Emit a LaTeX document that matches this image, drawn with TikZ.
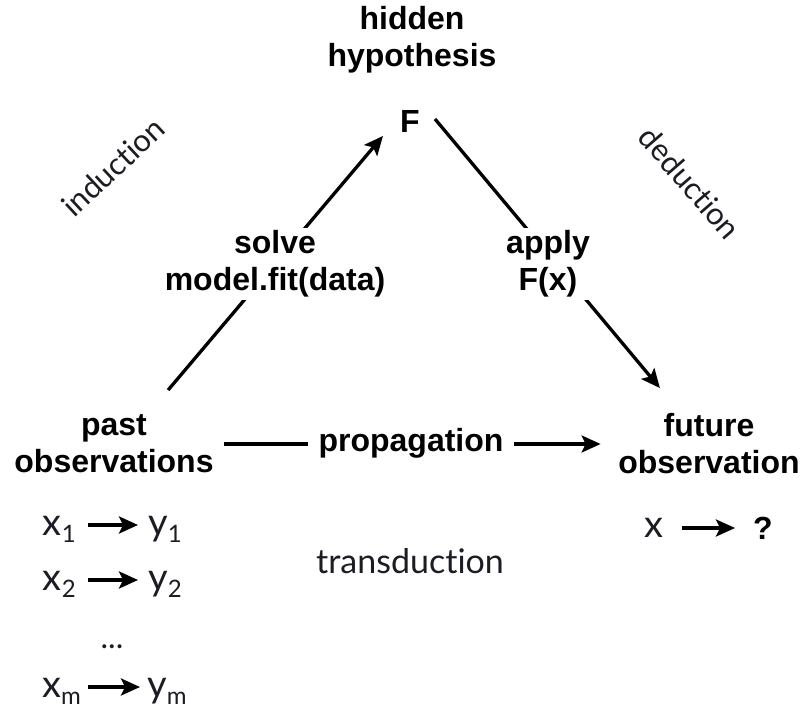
\documentclass[tikz,border=0pt]{standalone}
\usepackage{fontspec}
\usetikzlibrary{arrows.meta}
\newfontfamily\headfam{Liberation Sans}
\newfontfamily\thinfam{Lato}[Ligatures=NoCommon]
\definecolor{ink}{RGB}{28,28,36}
\newcommand\lowidx[1]{\raisebox{-0.2em}{\fontsize{24}{24}\selectfont #1}}

\begin{document}
\begin{tikzpicture}[x=1pt,y=-1pt,
  lbl/.style={font=\headfam\bfseries\fontsize{32}{37}\selectfont, align=center, inner sep=0pt},
  thin/.style={font=\thinfam\fontsize{31}{36}\selectfont, text=ink, inner sep=0pt},
  pair/.style={font=\thinfam\fontsize{38}{40}\selectfont, text=ink, inner sep=0pt, text height=20pt, text depth=0pt},
  arr/.style={line width=3.3pt, -{Stealth[length=19pt,width=17pt,inset=4pt]}},
  gap/.style={fill=white, inner xsep=2pt, inner ysep=3pt}
]
\useasboundingbox[fill=white] (0,0) rectangle (804,711);

% main nodes
\node[lbl] (hyp) at (412,40) {hidden\\hypothesis};
\node[lbl] (F) at (410,121) {F};
\node[lbl] (past) at (114,444) {past\\observations};
\node[lbl] (future) at (709,444) {future\\observation};

% induction: past -> F
\draw[arr, shorten <=70.6pt, shorten >=19.6pt] ([xshift=8.5pt]past.center) -- ([xshift=-14.4pt]F.center);
\node[lbl,gap] (solve) at (275,264) {solve\\model.fit(data)};

% deduction: F -> future
\draw[arr, shorten >=72.9pt] ([xshift=25pt,yshift=2pt]F.center) -- ([xshift=-2.3pt]future.center);
\node[lbl,gap] (apply) at (548,264) {apply\\F(x)};

% transduction: past -> future
\draw[arr, shorten <=10.4pt, shorten >=17.5pt] (past.east) -- (future.west);
\node[lbl,gap,inner xsep=11pt] (prop) at (411,443) {propagation};

% side captions
\node[thin, rotate=43] (ind) at (113,167) {induction};
\node[thin, rotate=-49] (ded) at (690,183) {deduction};
\node[thin, font=\thinfam\fontsize{34}{36}\selectfont] (trans) at (410,561) {transduction};

% training pairs
\node[pair, anchor=east] (x1) at (76,525) {x\lowidx{1}};
\node[pair, anchor=west] (y1) at (148,525) {y\lowidx{1}};
\draw[arr, shorten <=12pt, shorten >=10pt] (x1.east) -- (y1.west);

\node[pair, anchor=east] (x2) at (76,580) {x\lowidx{2}};
\node[pair, anchor=west] (y2) at (148,580) {y\lowidx{2}};
\draw[arr, shorten <=12pt, shorten >=10pt] (x2.east) -- (y2.west);

\node[pair, font=\thinfam\fontsize{32}{36}\selectfont] (dots) at (112,638) {...};

\node[pair, anchor=east] (xm) at (81,687) {x\lowidx{m}};
\node[pair, anchor=west] (ym) at (147,687) {y\lowidx{m}};
\draw[arr, shorten <=7pt, shorten >=7pt] (xm.east) -- (ym.west);

% query
\node[pair, font=\thinfam\fontsize{38}{40}\selectfont, text height=19pt, anchor=east] (xq) at (664,528) {x};
\node[lbl, anchor=west] (q) at (753,528) {?};
\draw[arr, shorten <=18pt, shorten >=18pt] (xq.east) -- (q.west);
\end{tikzpicture}
\end{document}
